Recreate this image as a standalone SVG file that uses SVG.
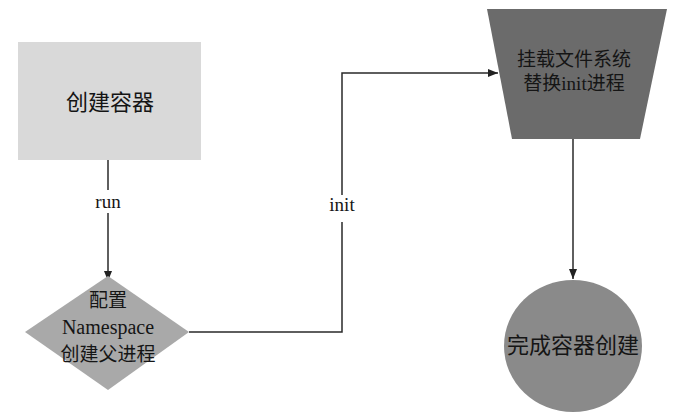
<svg xmlns="http://www.w3.org/2000/svg" width="677" height="416" viewBox="0 0 677 416">
<defs>
<marker id="arr" viewBox="0 0 10 10" refX="10" refY="5" markerWidth="10" markerHeight="10" markerUnits="userSpaceOnUse" orient="auto">
<path d="M0,1 L10,5 L0,9 Z" fill="#222"/>
</marker>
<style>
.lbl{font-family:"Liberation Serif","Noto Sans CJK SC",serif;fill:#151515;text-anchor:middle}
.edge{fill:none;stroke:#2a2a2a;stroke-width:1.5}
</style>
</defs>
<rect width="677" height="416" fill="#ffffff"/>
<g id="connectors">
<path class="edge" d="M108,160 V190" />
<path class="edge" d="M108,213 V281" marker-end="url(#arr)"/>
<text class="lbl" x="108" y="208" font-size="19">run</text>
<path class="edge" d="M189,332 H342 V222"/>
<path class="edge" d="M342,195 V73 H498" marker-end="url(#arr)"/>
<text class="lbl" x="342" y="211" font-size="19">init</text>
<path class="edge" d="M573,139 V279" marker-end="url(#arr)"/>
</g>
<g id="node-create">
<rect x="18" y="42" width="183" height="118" fill="#d9d9d9"/>
<text class="lbl" x="110" y="110" font-size="22">创建容器</text>
</g>
<g id="node-config">
<polygon points="108,276 189,332 108,390 25,332" fill="#a9a9a9"/>
<text class="lbl" x="108" y="307" font-size="19">配置</text>
<text class="lbl" x="108" y="334" font-size="20">Namespace</text>
<text class="lbl" x="108" y="361" font-size="19">创建父进程</text>
</g>
<g id="node-mount">
<polygon points="487,9 667,9 640,139 512,139" fill="#6b6b6b"/>
<text class="lbl" x="574" y="66" font-size="19">挂载文件系统</text>
<text class="lbl" x="574" y="90" font-size="19">替换init进程</text>
</g>
<g id="node-done">
<ellipse cx="573" cy="346" rx="69" ry="66" fill="#8a8a8a"/>
<text class="lbl" x="573" y="353" font-size="22">完成容器创建</text>
</g>
</svg>
